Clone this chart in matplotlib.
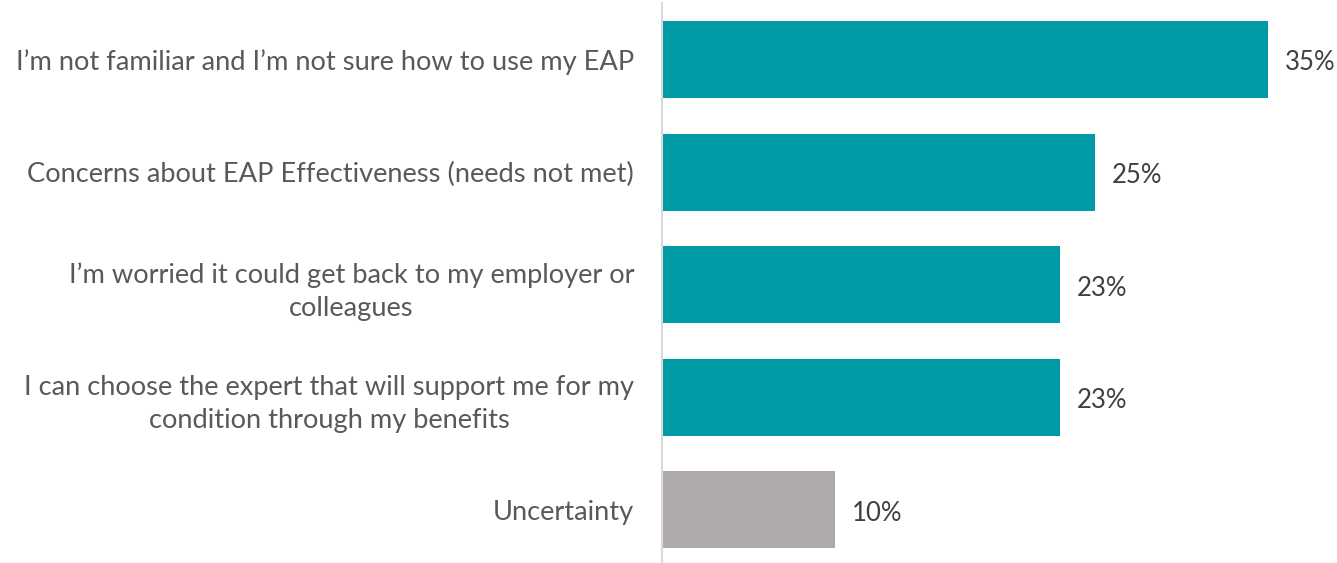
import matplotlib
matplotlib.use("Agg")
import matplotlib.pyplot as plt

categories = [
    "I\u2019m not familiar and I\u2019m not sure how to use my EAP",
    "Concerns about EAP Effectiveness (needs not met)",
    "I\u2019m worried it could get back to my employer or\ncolleagues",
    "I can choose the expert that will support me for my\ncondition through my benefits",
    "Uncertainty",
]
values = [35, 25, 23, 23, 10]
colors = ["#009ba6", "#009ba6", "#009ba6", "#009ba6", "#aeaaaa"]

plt.rcParams["font.family"] = ["Lato", "DejaVu Sans"]

fig = plt.figure(figsize=(13.37, 5.63), dpi=100)
ax = fig.add_axes([662 / 1337, 0.0, 1 - 662 / 1337, 560 / 563])

y = list(range(len(categories)))
ax.barh(y, values, height=0.684, color=colors)
ax.set_ylim(4.472, -0.502)
ax.set_xlim(0, 38.98)

for yi, v in zip(y, values):
    ax.text(v + 0.95, yi + 0.03, f"{v}%", va="center", ha="left", fontsize=18.5, color="#404040")

ax.set_yticks(y)
ax.set_yticklabels(categories, fontsize=19.6, color="#595959",
                   multialignment="center", linespacing=1.4)
ax.tick_params(axis="y", length=0, pad=20)
ax.set_xticks([])
for s in ["top", "right", "bottom"]:
    ax.spines[s].set_visible(False)
ax.spines["left"].set_color("#d9d9d9")
ax.spines["left"].set_linewidth(1.5)

fig.savefig("out.png", dpi=100)
